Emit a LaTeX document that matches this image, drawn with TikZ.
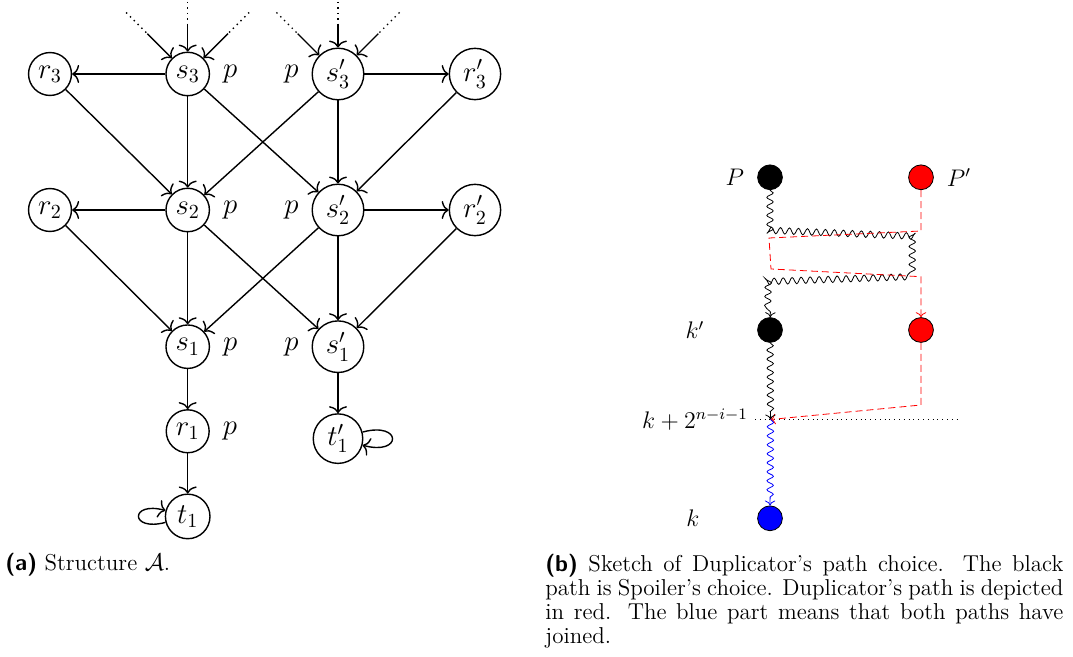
\documentclass[tikz,border=0pt]{standalone}
\usepackage{tikz}
\usetikzlibrary{arrows.meta, positioning, calc, decorations.pathmorphing}
\definecolor{rojoDuplicador}{HTML}{FF0000}
\definecolor{azulUnion}{HTML}{0000FF}

\begin{document}
\begin{tikzpicture}[
        x=0.5pt, y=0.5pt,
        node distance=20pt and 3pt,
        st/.style={circle, draw, line width=0.7pt, inner sep=2.5pt, font=\Large},
        prop/.style={inner sep=3.3pt, font=\Large},
        rel/.style={-{To[length=3.5pt, width=9pt]}, line width=0.7pt},
        ent/.style={dotted, line width=0.7pt},
        punto/.style={circle, draw, minimum size=12.4pt, inner sep=0pt},
        lab/.style={font=\large},
        snk/.style={decorate, decoration={snake, amplitude=1.6pt, segment length=4.5pt, post length=2.5pt}},
        dup/.style={rojoDuplicador, dash pattern=on 3.5pt off 2pt},
        leyenda/.style={inner sep=0pt, font=\fontsize{11.5}{12}\selectfont}
    ]
        \useasboundingbox (0,0) rectangle (1073,-657);

        % (a) estructura
        \foreach \i/\y in {3/-74, 2/-210, 1/-346.7} {
            \node[st] (s\i) at (187.7,\y) {$s_\i$};
            \node[st] (s\i p) at (338,\y) {$s'_\i$};
            \node[prop, right=of s\i] (ps\i) {$p$};
            \node[prop, left=of s\i p] (ps\i p) {$p$};
        }
        \foreach \i/\y in {3/-74, 2/-210} {
            \node[st] (r\i) at (50,\y) {$r_\i$};
            \node[st] (r\i p) at (475,\y) {$r'_\i$};
        }
        \node[st, below=of s1] (r1) {$r_1$};
        \node[prop, right=of r1] (pr1) {$p$};
        \node[st, below=of r1] (t1) {$t_1$};
        \node[st, below=of s1p] (t1p) {$t'_1$};

        \foreach \i/\j in {3/2, 2/1} {
            \draw[rel] (s\i) -- (r\i);
            \draw[rel] (s\i p) -- (r\i p);
            \draw[rel] (r\i) -- (s\j);
            \draw[rel] (s\i) -- (s\j);
            \draw[rel] (s\i) -- (s\j p);
            \draw[rel] (s\i p) -- (s\j);
            \draw[rel] (s\i p) -- (s\j p);
            \draw[rel] (r\i p) -- (s\j p);
        }
        \draw[rel] (s1) -- (r1);
        \draw[rel] (r1) -- (t1);
        \draw[rel] (s1p) -- (t1p);
        \draw[rel] (t1) to[loop left] (t1);
        \draw[rel] (t1p) to[loop right] (t1p);

        % entradas desde arriba
        \foreach \n in {s3, s3p} {
            \foreach \ang/\far/\near in {135/87/57, 90/72/49, 45/87/57} {
                \coordinate (\n-o\ang) at ($(\n)+(\ang:\far)$);
                \coordinate (\n-m\ang) at ($(\n)+(\ang:\near)$);
                \draw[ent] (\n-o\ang) -- (\n-m\ang);
                \draw[rel] (\n-m\ang) -- (\n);
            }
        }

        % (b) caminos
        \node[punto, fill=black] (dP) at (770,-177.3) {};
        \node[punto, fill=rojoDuplicador] (dPp) at (921,-177.3) {};
        \node[punto, fill=black] (dKp) at (770,-330) {};
        \node[punto, fill=rojoDuplicador] (dRk) at (921,-330) {};
        \node[punto, fill=azulUnion] (dK) at (770,-518.3) {};
        \node[lab, left=of dP] (lP) {$P$};
        \node[lab, right=of dPp] (lPp) {$P'$};
        \node[lab] (lKp) at (695,-330) {$k'$};
        \node[lab] (lK) at (693,-518.3) {$k$};
        \node[lab, anchor=east] (lJ) at (755,-419.5) {$k+2^{n-i-1}$};

        \coordinate (J) at (770.5,-419.5);
        \coordinate (Jfin) at (958,-419.5);
        \coordinate (a1) at (770,-230);
        \coordinate (a2) at (918,-236);
        \coordinate (a3) at (918,-277);
        \coordinate (a4) at (771,-282);
        \coordinate (b1) at (921,-231);
        \coordinate (b2) at (769,-238);
        \coordinate (b3) at (771,-269);
        \coordinate (b4) at (921,-276.7);
        \coordinate (b5) at (921,-405);

        \draw[dotted] (lJ) -- (Jfin);
        \draw[snk, ->] (dP) -- (a1) -- (a2) -- (a3) -- (a4) -- (dKp);
        \draw[dup, ->] (dPp) -- (b1) -- (b2) -- (b3) -- (b4) -- (dRk);
        \draw[dup, ->] (dRk) -- (b5) -- (J);
        \draw[snk, ->] (dKp) -- (J);
        \draw[snk, azulUnion, ->] (J) -- (dK);

        % leyendas
        \node[leyenda, anchor=base west] (capA) at (5,-571) {\textsf{\bfseries (a)} Structure $\mathcal{A}$.};
        \node[leyenda, anchor=north west, text width=259pt, align=justify] (capB) at (545,-554)
            {\textsf{\bfseries (b)} Sketch of Duplicator’s path choice. The black\linebreak
            path is Spoiler’s choice. Duplicator’s path is depicted\linebreak
            in red. The blue part means that both paths have\linebreak
            joined.};
    \end{tikzpicture}
\end{document}
